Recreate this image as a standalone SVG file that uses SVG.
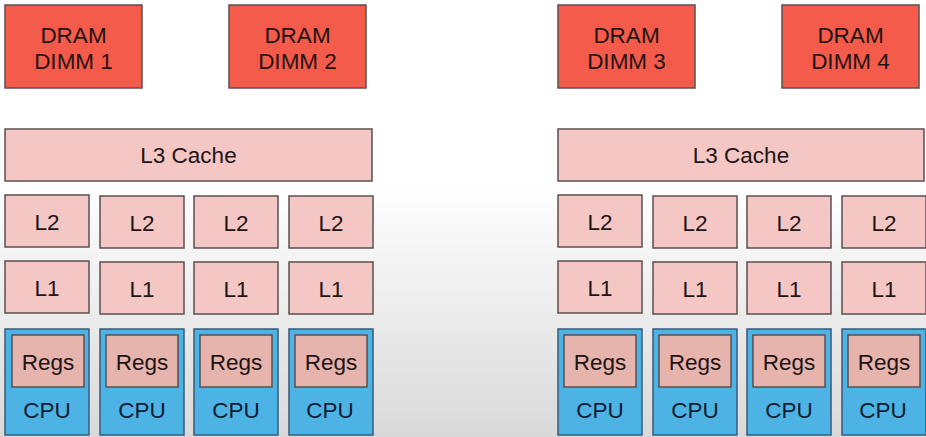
<svg xmlns="http://www.w3.org/2000/svg" width="926" height="437" viewBox="0 0 926 437">
<defs>
<linearGradient id="bg" x1="0" y1="0" x2="0" y2="1">
<stop offset="0" stop-color="#ffffff"/>
<stop offset="0.42" stop-color="#ffffff"/>
<stop offset="1" stop-color="#d9d9d9"/>
</linearGradient>
</defs>
<style>
rect{stroke:#5b4f4e;stroke-width:1.5}
.dram{fill:#f55b4a}
.cache{fill:#f4c7c4}
.regs{fill:#e6b3ad}
.cpu{fill:#4cb3e4;stroke:#3a5a78}
text{font-family:"Liberation Sans",Arial,sans-serif;font-size:22.5px;fill:#1e1414;text-anchor:middle}
.ct{fill:#0f1d33}
</style>
<rect x="0" y="0" width="926" height="437" fill="url(#bg)" style="stroke:none"/>
<g id="connectors"/>
<g id="dimm1"><rect class="dram" x="5" y="5" width="137" height="83"/><text x="73.5" y="43">DRAM</text><text x="73.5" y="69">DIMM 1</text></g>
<g id="dimm2"><rect class="dram" x="229" y="5" width="137" height="83"/><text x="297.5" y="43">DRAM</text><text x="297.5" y="69">DIMM 2</text></g>
<g id="dimm3"><rect class="dram" x="558" y="5" width="137" height="83"/><text x="626.5" y="43">DRAM</text><text x="626.5" y="69">DIMM 3</text></g>
<g id="dimm4"><rect class="dram" x="782" y="5" width="137" height="83"/><text x="850.5" y="43">DRAM</text><text x="850.5" y="69">DIMM 4</text></g>
<g id="l3-left"><rect class="cache" x="5" y="129" width="367" height="52"/><text x="188.5" y="163">L3 Cache</text></g>
<g id="l3-right"><rect class="cache" x="558" y="129" width="366" height="52"/><text x="741" y="163">L3 Cache</text></g>
<g id="l2-1"><rect class="cache" x="5" y="195" width="84" height="52"/><text x="47" y="230">L2</text></g>
<g id="l2-2"><rect class="cache" x="100" y="196" width="84" height="52"/><text x="142" y="231">L2</text></g>
<g id="l2-3"><rect class="cache" x="194" y="196" width="84" height="52"/><text x="236" y="231">L2</text></g>
<g id="l2-4"><rect class="cache" x="289" y="196" width="84" height="52"/><text x="331" y="231">L2</text></g>
<g id="l2-5"><rect class="cache" x="558" y="195" width="84" height="52"/><text x="600" y="230">L2</text></g>
<g id="l2-6"><rect class="cache" x="653" y="196" width="84" height="52"/><text x="695" y="231">L2</text></g>
<g id="l2-7"><rect class="cache" x="747" y="196" width="84" height="52"/><text x="789" y="231">L2</text></g>
<g id="l2-8"><rect class="cache" x="842" y="196" width="84" height="52"/><text x="884" y="231">L2</text></g>
<g id="l1-1"><rect class="cache" x="5" y="261" width="84" height="52"/><text x="47" y="296">L1</text></g>
<g id="l1-2"><rect class="cache" x="100" y="262" width="84" height="52"/><text x="142" y="297">L1</text></g>
<g id="l1-3"><rect class="cache" x="194" y="262" width="84" height="52"/><text x="236" y="297">L1</text></g>
<g id="l1-4"><rect class="cache" x="289" y="262" width="84" height="52"/><text x="331" y="297">L1</text></g>
<g id="l1-5"><rect class="cache" x="558" y="261" width="84" height="52"/><text x="600" y="296">L1</text></g>
<g id="l1-6"><rect class="cache" x="653" y="262" width="84" height="52"/><text x="695" y="297">L1</text></g>
<g id="l1-7"><rect class="cache" x="747" y="262" width="84" height="52"/><text x="789" y="297">L1</text></g>
<g id="l1-8"><rect class="cache" x="842" y="262" width="84" height="52"/><text x="884" y="297">L1</text></g>
<g id="cpu-1"><rect class="cpu" x="5" y="329" width="84" height="106"/><rect class="regs" x="12" y="335" width="72" height="52"/><text x="48" y="370">Regs</text><text class="ct" x="47" y="418">CPU</text></g>
<g id="cpu-2"><rect class="cpu" x="100" y="329" width="84" height="106"/><rect class="regs" x="106" y="335" width="72" height="52"/><text x="142" y="370">Regs</text><text class="ct" x="142" y="418">CPU</text></g>
<g id="cpu-3"><rect class="cpu" x="194" y="329" width="84" height="106"/><rect class="regs" x="200" y="335" width="72" height="52"/><text x="236" y="370">Regs</text><text class="ct" x="236" y="418">CPU</text></g>
<g id="cpu-4"><rect class="cpu" x="289" y="329" width="84" height="106"/><rect class="regs" x="295" y="335" width="72" height="52"/><text x="331" y="370">Regs</text><text class="ct" x="330" y="418">CPU</text></g>
<g id="cpu-5"><rect class="cpu" x="558" y="329" width="84" height="106"/><rect class="regs" x="564" y="335" width="72" height="52"/><text x="600" y="370">Regs</text><text class="ct" x="600" y="418">CPU</text></g>
<g id="cpu-6"><rect class="cpu" x="653" y="329" width="84" height="106"/><rect class="regs" x="659" y="335" width="72" height="52"/><text x="695" y="370">Regs</text><text class="ct" x="695" y="418">CPU</text></g>
<g id="cpu-7"><rect class="cpu" x="747" y="329" width="84" height="106"/><rect class="regs" x="753" y="335" width="72" height="52"/><text x="789" y="370">Regs</text><text class="ct" x="789" y="418">CPU</text></g>
<g id="cpu-8"><rect class="cpu" x="842" y="329" width="84" height="106"/><rect class="regs" x="848" y="335" width="72" height="52"/><text x="884" y="370">Regs</text><text class="ct" x="883" y="418">CPU</text></g>
</svg>
